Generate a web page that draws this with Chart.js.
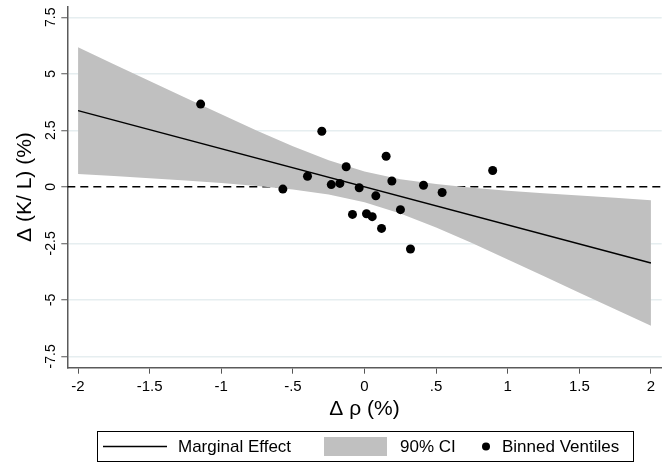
<!DOCTYPE html>
<html>
<head>
<meta charset="utf-8">
<script src="https://cdn.jsdelivr.net/npm/chart.js@4.4.1/dist/chart.umd.min.js"></script>
<style>
  html, body { margin: 0; padding: 0; background: #fff; }
  canvas { display: block; }
</style>
</head>
<body>
<canvas id="meChart" width="669" height="464"></canvas>
<script>
// Rangos y marcas de los ejes
const xRange = [-2.075, 2.075];
const yRange = [-8.0, 7.98];
const xTicks = [-2, -1.5, -1, -0.5, 0, 0.5, 1, 1.5, 2];
const xTickLabels = ['-2', '-1.5', '-1', '-.5', '0', '.5', '1', '1.5', '2'];
const yTicks = [-7.5, -5, -2.5, 0, 2.5, 5, 7.5];
const yTickLabels = ['-7.5', '-5', '-2.5', '0', '2.5', '5', '7.5'];

// Efecto marginal (recta)
const effectX = [-2, 2];
const effectY = [3.37, -3.37];

// Intervalo de confianza del 90%
const ciX = [-2, -1.75, -1.5, -1.25, -1, -0.75, -0.5, -0.25, 0, 0.25, 0.5, 0.75, 1, 1.25, 1.5, 1.75, 2];
const ciUpper = [6.17, 5.42, 4.68, 3.94, 3.21, 2.48, 1.80, 1.18, 0.68, 0.34, 0.12, -0.04, -0.17, -0.28, -0.38, -0.48, -0.59];
const ciLower = [0.57, 0.48, 0.38, 0.28, 0.17, 0.04, -0.12, -0.34, -0.68, -1.18, -1.80, -2.48, -3.21, -3.94, -4.68, -5.42, -6.15];

// Ventiles agrupados
const binX = [-1.144, -0.570, -0.398, -0.298, -0.232, -0.172, -0.128, -0.084, -0.037, 0.014,
              0.054, 0.079, 0.119, 0.151, 0.191, 0.251, 0.321, 0.412, 0.542, 0.895];
const binY = [3.66, -0.10, 0.47, 2.46, 0.10, 0.15, 0.89, -1.22, -0.04, -1.19,
              -1.32, -0.40, -1.84, 1.35, 0.26, -1.01, -2.75, 0.07, -0.25, 0.72];

const legendLabels = ['Marginal Effect', '90% CI', 'Binned Ventiles'];
const xTitle = 'Δ ρ (%)';
const yTitle = 'Δ (K/ L) (%)';

const toPoints = (xs, ys) => xs.map((x, i) => ({ x: x, y: ys[i] }));

const FONT = 'Liberation Sans, Arial, sans-serif';
Chart.defaults.font.family = FONT;
Chart.defaults.color = '#000';

// Leyenda con recuadro, al estilo Stata
const boxLegend = {
  id: 'boxLegend',
  afterDraw(chart) {
    const ctx = chart.ctx;
    const ds = chart.data.datasets;
    ctx.save();
    ctx.strokeStyle = '#000';
    ctx.lineWidth = 1;
    ctx.strokeRect(97.5, 431.5, 536, 30);

    ctx.font = '17px ' + FONT;
    ctx.fillStyle = '#000';
    ctx.textBaseline = 'middle';
    const cy = 447;

    // línea
    ctx.strokeStyle = ds[3].borderColor;
    ctx.lineWidth = ds[3].borderWidth;
    ctx.beginPath();
    ctx.moveTo(103, 446.5);
    ctx.lineTo(167, 446.5);
    ctx.stroke();
    ctx.fillText(legendLabels[0], 178, cy);

    // banda
    ctx.fillStyle = ds[1].backgroundColor;
    ctx.fillRect(324, 437, 63, 19);
    ctx.fillStyle = '#000';
    ctx.fillText(legendLabels[1], 400, cy);

    // punto
    ctx.beginPath();
    ctx.arc(486, 446.5, 4, 0, Math.PI * 2);
    ctx.fillStyle = ds[4].backgroundColor;
    ctx.fill();
    ctx.fillStyle = '#000';
    ctx.fillText(legendLabels[2], 502, cy);
    ctx.restore();
  }
};

const ctx = document.getElementById('meChart').getContext('2d');
new Chart(ctx, {
  type: 'scatter',
  data: {
    datasets: [
      {
        // línea de referencia en cero
        type: 'line',
        data: toPoints(xRange, [0, 0]),
        borderColor: '#000',
        borderWidth: 1.5,
        borderDash: [8, 5],
        pointRadius: 0,
        fill: false,
        order: 4
      },
      {
        type: 'line',
        data: toPoints(ciX, ciUpper),
        borderWidth: 0,
        borderColor: 'rgba(0,0,0,0)',
        backgroundColor: '#c0c0c0',
        pointRadius: 0,
        fill: '+1',
        order: 3
      },
      {
        type: 'line',
        data: toPoints(ciX, ciLower),
        borderWidth: 0,
        borderColor: 'rgba(0,0,0,0)',
        pointRadius: 0,
        fill: false,
        order: 3
      },
      {
        type: 'line',
        data: toPoints(effectX, effectY),
        borderColor: '#000',
        borderWidth: 1.5,
        pointRadius: 0,
        fill: false,
        order: 1
      },
      {
        data: toPoints(binX, binY),
        backgroundColor: '#000',
        borderColor: '#000',
        borderWidth: 0,
        pointRadius: 4.5,
        order: 0
      }
    ]
  },
  options: {
    responsive: false,
    animation: false,
    layout: { padding: { top: 5.4, right: 7.3, bottom: 0, left: 0 } },
    plugins: {
      legend: { display: false },
      tooltip: { enabled: false }
    },
    scales: {
      x: {
        type: 'linear',
        min: xRange[0],
        max: xRange[1],
        afterBuildTicks: s => { s.ticks = xTicks.map(v => ({ value: v })); },
        afterFit: s => { s.height = 96.3; },
        ticks: {
          autoSkip: false,
          maxRotation: 0,
          padding: 4,
          font: { size: 15 },
          color: '#000',
          callback: (v) => xTickLabels[xTicks.indexOf(v)]
        },
        grid: {
          drawOnChartArea: false,
          tickLength: 6,
          tickColor: '#555',
          tickWidth: 1
        },
        border: { color: '#5a5a5a', width: 1.5 },
        title: {
          display: true,
          text: xTitle,
          font: { size: 21 },
          color: '#000',
          padding: { top: 0, bottom: 42 }
        }
      },
      y: {
        type: 'linear',
        min: yRange[0],
        max: yRange[1],
        afterBuildTicks: s => { s.ticks = yTicks.map(v => ({ value: v })); },
        afterFit: s => { s.width = 67.3; },
        ticks: {
          autoSkip: false,
          minRotation: 90,
          maxRotation: 90,
          crossAlign: 'center',
          padding: -2,
          font: { size: 14 },
          color: '#000',
          callback: (v) => yTickLabels[yTicks.indexOf(v)]
        },
        grid: {
          color: c => (c.tick && c.tick.value === 0) ? 'rgba(0,0,0,0)' : '#e6eef0',
          lineWidth: 1.5,
          tickLength: 6,
          tickColor: '#555',
          tickWidth: 1
        },
        border: { color: '#5a5a5a', width: 1.5 },
        title: {
          display: true,
          text: yTitle,
          font: { size: 21 },
          color: '#000',
          padding: { top: 13, bottom: 0 }
        }
      }
    }
  },
  plugins: [boxLegend]
});
</script>
</body>
</html>
